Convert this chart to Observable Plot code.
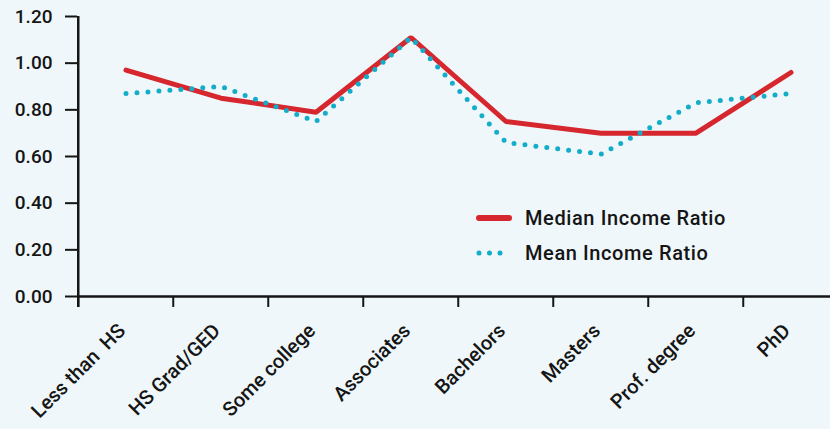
<!DOCTYPE html>
<html><head><meta charset="utf-8">
<script src="https://cdn.jsdelivr.net/npm/d3@7"></script>
<script src="https://cdn.jsdelivr.net/npm/@observablehq/plot@0.6"></script>
<style>
html,body{margin:0;padding:0;background:#EFF7FA;}
#wrap{position:relative;width:830px;height:429px;overflow:hidden;font-family:Roboto,sans-serif;}
#wrap svg{white-space:pre;}
#legend{position:absolute;left:476px;top:200px;font-size:20px;letter-spacing:0.6px;font-weight:500;color:#151515;font-family:Roboto,sans-serif;}
.item{display:flex;align-items:center;height:35px;}
.item svg{margin-right:13px;}
</style></head><body><div id="wrap"><div id="legend"></div></div>
<script>
const categories = ["Less than  HS","HS Grad/GED","Some college","Associates","Bachelors","Masters","Prof. degree","PhD"];
const medianRatio = [0.97,0.85,0.79,1.11,0.75,0.70,0.70,0.96];
const meanRatio = [0.87,0.90,0.75,1.11,0.66,0.61,0.83,0.87];
const yTicks = [0,0.2,0.4,0.6,0.8,1.0,1.2];
const seriesNames = ["Median Income Ratio","Mean Income Ratio"];
const colors = ["#D6262E","#14ADC9"];

const data = categories.map((c,i)=>({cat:c, median:medianRatio[i], mean:meanRatio[i]}));
const xRange = [76, 840];
const bw = (xRange[1]-xRange[0])/categories.length;
const ink = "#151515";

const chart = Plot.plot({
  width: 830, height: 429,
  marginLeft: 77, marginRight: 0, marginTop: 16, marginBottom: 133,
  style: {background: "transparent", fontFamily: "Roboto, sans-serif"},
  x: {type: "band", domain: categories, range: xRange, padding: 0, label: null},
  y: {domain: [0, 1.2], label: null},
  marks: [
    Plot.axisY({ticks: yTicks, tickFormat: d => d.toFixed(2), tickSize: 12, tickPadding: 13, fontSize: 19, fontWeight: 500, strokeWidth: 2, color: ink, label: null}),
    Plot.axisX({tickSize: 0, tickRotate: -45, tickPadding: 31, dx: -4, fontSize: 20, fontWeight: 500, color: ink, label: null}),
    Plot.ruleY([0], {stroke: ink, strokeWidth: 2.5}),
    Plot.ruleX([categories[0]], {x: d => d, dx: -bw/2, y1: -0.047, y2: 1.2, stroke: ink, strokeWidth: 2.5}),
    Plot.ruleX(categories, {x: d => d, dx: -bw/2, y1: 0, y2: -0.047, stroke: ink, strokeWidth: 2}),
    Plot.line(data, {x: "cat", y: "median", stroke: colors[0], strokeWidth: 5, strokeLinejoin: "miter", strokeLinecap: "round"}),
    Plot.line(data, {x: "cat", y: "mean", stroke: colors[1], strokeWidth: 5, strokeDasharray: "0 11", strokeLinecap: "round"})
  ]
});
chart.setAttribute("xml:space", "preserve");
document.getElementById("wrap").prepend(chart);

const legend = document.getElementById("legend");
seriesNames.forEach((name, i) => {
  const item = document.createElement("div");
  item.className = "item";
  const dash = i === 0 ? "" : 'stroke-dasharray="0 10.5"';
  item.innerHTML = `<svg width="36" height="10"><line x1="3" y1="5" x2="33" y2="5" stroke="${colors[i]}" stroke-width="${i===0?6:5}" stroke-linecap="round" ${dash}/></svg><span>${name}</span>`;
  legend.appendChild(item);
});
</script>
</body></html>
